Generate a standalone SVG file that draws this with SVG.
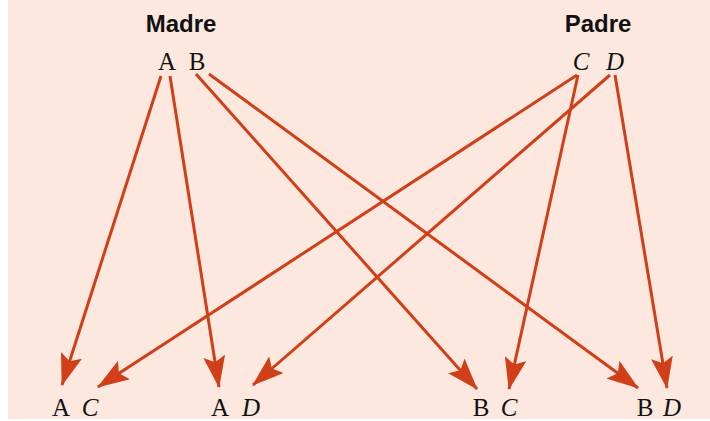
<svg xmlns="http://www.w3.org/2000/svg" width="710" height="421" viewBox="0 0 710 421">
<style>
.hdr{font-family:"Liberation Sans",Arial,sans-serif;font-weight:bold;font-size:24px;fill:#111;text-anchor:middle}
.al{font-family:"Liberation Serif","Times New Roman",serif;font-size:25px;fill:#111;text-anchor:middle}
.it{font-style:italic}
.con line{stroke:#d03f18;stroke-width:3;marker-end:url(#ah)}
</style>
<defs>
<marker id="ah" markerUnits="userSpaceOnUse" viewBox="0 0 32 22" refX="31" refY="11" markerWidth="32" markerHeight="22" orient="auto">
<path d="M0,0 L32,11 L0,22 L6,11 Z" fill="#d03f18"/>
</marker>
</defs>
<rect x="0" y="0" width="710" height="421" fill="#ffffff"/>
<rect x="8" y="0" width="702" height="419" fill="#fce8de"/>
<g id="madre">
<text class="hdr" x="181" y="32">Madre</text>
<text class="al" x="167" y="70">A</text>
<text class="al" x="197" y="70">B</text>
</g>
<g id="padre">
<text class="hdr" x="598" y="32">Padre</text>
<text class="al it" x="581" y="70">C</text>
<text class="al it" x="615" y="70">D</text>
</g>
<g id="ac"><text class="al" x="61" y="416">A</text><text class="al it" x="90" y="416">C</text></g>
<g id="ad"><text class="al" x="220" y="416">A</text><text class="al it" x="251" y="416">D</text></g>
<g id="bc"><text class="al" x="481" y="416">B</text><text class="al it" x="509" y="416">C</text></g>
<g id="bd"><text class="al" x="645" y="416">B</text><text class="al it" x="672" y="416">D</text></g>
<g class="con" id="connectors">
<line x1="161" y1="76" x2="62" y2="385"/>
<line x1="170" y1="76" x2="219" y2="387"/>
<line x1="196" y1="74" x2="477" y2="389"/>
<line x1="209" y1="74" x2="638" y2="388"/>
<line x1="577" y1="75" x2="98" y2="387"/>
<line x1="578" y1="75" x2="509" y2="389"/>
<line x1="610" y1="75" x2="253" y2="385"/>
<line x1="615" y1="75" x2="667" y2="388"/>
</g>
</svg>
